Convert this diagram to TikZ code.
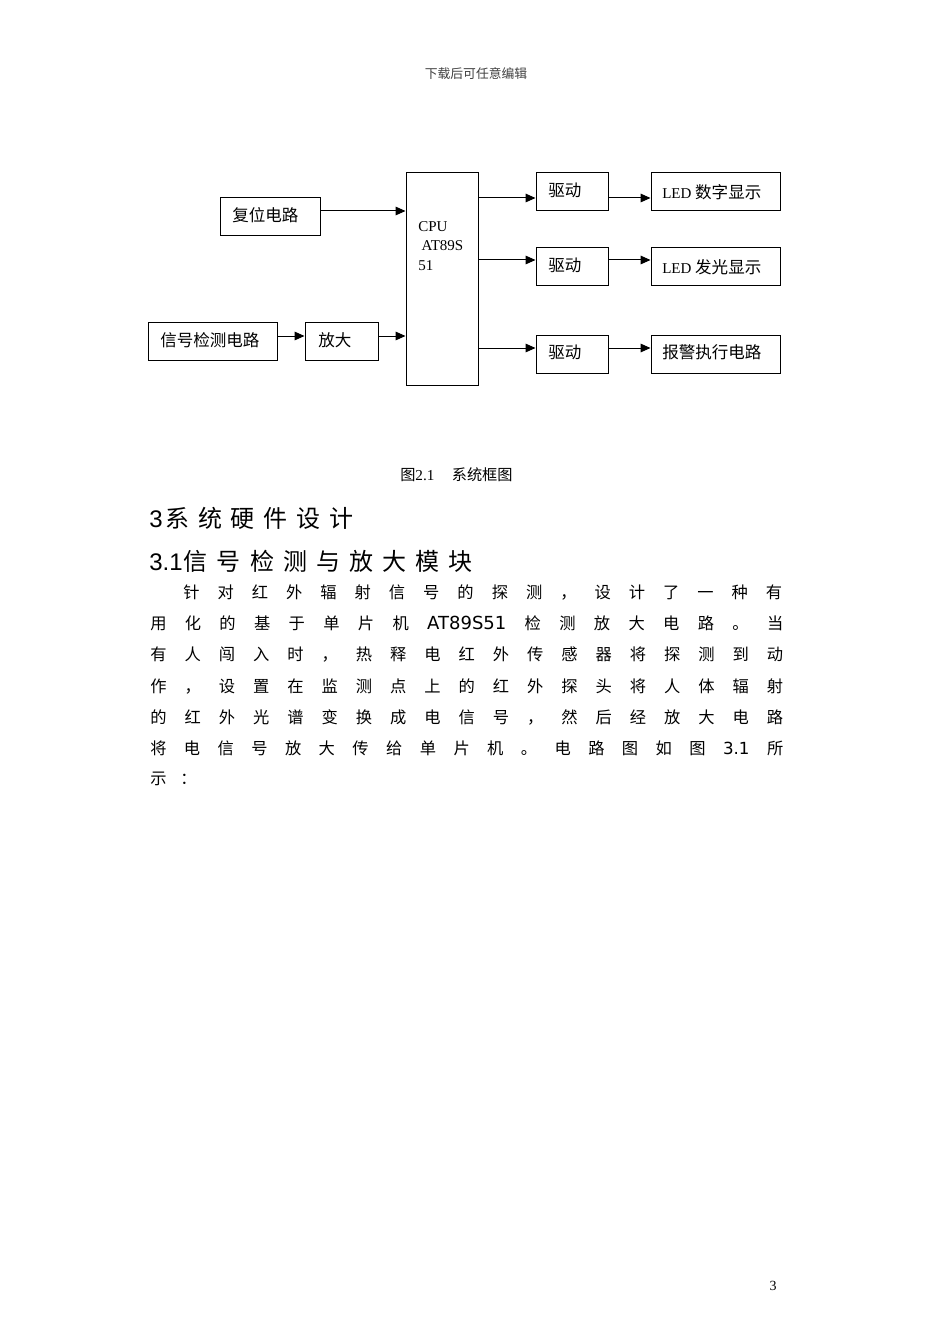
\documentclass[tikz,border=0pt]{standalone}
\usepackage{fontspec}
\setmainfont{Liberation Serif}
\newfontfamily\cjk{Noto Sans CJK SC}
\newfontfamily\dvs{DejaVu Sans}
\newfontfamily\lsans{Liberation Sans}
\usetikzlibrary{arrows.meta,fit}
\tikzset{
  blk/.style={draw, line width=0.75pt, inner sep=0pt},
  lbl/.style={anchor=west, inner sep=0pt, font=\cjk\fontsize{12.4pt}{14pt}\selectfont},
  arr/.style={line width=0.75pt, -{Triangle[length=7.5pt,width=6.5pt]}},
  body/.style={anchor=west, inner sep=0pt, font=\cjk\fontsize{12.2pt}{14pt}\selectfont},
  head/.style={anchor=west, inner sep=0pt, font=\cjk\fontsize{18pt}{20pt}\selectfont},
}
\begin{document}
\begin{tikzpicture}[x=0.75pt,y=-0.75pt]
\useasboundingbox[fill=white] (0,0) rectangle (950,1344);
% header
\node[inner sep=0pt, text=black!75, font=\cjk\fontsize{9.6pt}{11pt}\selectfont] (hdr) at (476,74) {下载后可任意编辑};
% boxes
\node[blk, fit={(220,198)(320,236)}] (fuwei) {};
\node[blk, fit={(406,173)(478,385)}] (cpu) {};
\node[blk, fit={(148,322)(277,360)}] (xinhao) {};
\node[blk, fit={(305,322)(378,360)}] (fangda) {};
\node[blk, fit={(536,173)(608,211)}] (q1) {};
\node[blk, fit={(536,248)(608,286)}] (q2) {};
\node[blk, fit={(536,335)(608,373)}] (q3) {};
\node[blk, fit={(651,173)(780,211)}] (led1) {};
\node[blk, fit={(651,248)(780,286)}] (led2) {};
\node[blk, fit={(651,335)(780,373)}] (alarm) {};
% labels
\node[lbl] (tfuwei) at (232,215) {复位电路};
\node[lbl] (txinhao) at (160,340) {信号检测电路};
\node[lbl] (tfangda) at (318,340) {放大};
\node[lbl] (tq1) at (548,190) {驱动};
\node[lbl] (tq2) at (548,265) {驱动};
\node[lbl] (tq3) at (548,352) {驱动};
\node[lbl] (tled1) at (662,192) {{\rmfamily\fontsize{11.25pt}{13pt}\selectfont LED }数字显示};
\node[lbl] (tled2) at (662,267) {{\rmfamily\fontsize{11.25pt}{13pt}\selectfont LED }发光显示};
\node[lbl] (talarm) at (662,352) {报警执行电路};
\node[anchor=north west, inner sep=0pt, align=left, font=\rmfamily\fontsize{11.25pt}{14.6pt}\selectfont] (tcpu) at (418,221) {CPU\\\kern2.5pt AT89S\\51};
% connectors
\coordinate (r1) at ([yshift=4.5pt]fuwei.east);
\draw[arr] (r1) -- (r1 -| cpu.west);
\coordinate (s1) at ([yshift=3.75pt]xinhao.east);
\draw[arr] (s1) -- (s1 -| fangda.west);
\draw[arr] (s1 -| fangda.east) -- (s1 -| cpu.west);
\coordinate (d1) at ([yshift=-4.5pt]q1.west);
\coordinate (d2) at ([yshift=5.25pt]q2.west);
\coordinate (d3) at ([yshift=4.5pt]q3.west);
\draw[arr] (d1 -| cpu.east) -- (d1);
\draw[arr] (d2 -| cpu.east) -- (d2);
\draw[arr] (d3 -| cpu.east) -- (d3);
\draw[arr] (d1 -| q1.east) -- (d1 -| led1.west);
\draw[arr] (d2 -| q2.east) -- (d2 -| led2.west);
\draw[arr] (d3 -| q3.east) -- (d3 -| alarm.west);
% caption
\node[anchor=west, inner sep=0pt, font=\rmfamily\fontsize{11.4pt}{12pt}\selectfont] (cap) at (400,475) {{\cjk 图}2.1\hspace{13pt}{\cjk 系统框图}};
% headings
\node[head] (h1) at (149,518) {\makebox[153pt][s]{{\lsans 3}\kern2pt 系\hfill 统\hfill 硬\hfill 件\hfill 设\hfill 计}};
\node[head] (h2) at (149,561) {\makebox[242.25pt][s]{{\lsans 3.1}\kern1pt 信\hfill 号\hfill 检\hfill 测\hfill 与\hfill 放\hfill 大\hfill 模\hfill 块}};
% body
\node[body] (l1) at (183,592.5) {\makebox[449.25pt][s]{针\hfill 对\hfill 红\hfill 外\hfill 辐\hfill 射\hfill 信\hfill 号\hfill 的\hfill 探\hfill 测\hfill ，\hfill 设\hfill 计\hfill 了\hfill 一\hfill 种\hfill 有}};
\node[body] (l2) at (150,623.7) {\makebox[474.75pt][s]{用\hfill 化\hfill 的\hfill 基\hfill 于\hfill 单\hfill 片\hfill 机\hfill {\dvs\fontsize{13.5pt}{14pt}\selectfont AT89S51}\hfill 检\hfill 测\hfill 放\hfill 大\hfill 电\hfill 路\hfill 。\hfill 当}};
\node[body] (l3) at (150,655) {\makebox[474.75pt][s]{有\hfill 人\hfill 闯\hfill 入\hfill 时\hfill ，\hfill 热\hfill 释\hfill 电\hfill 红\hfill 外\hfill 传\hfill 感\hfill 器\hfill 将\hfill 探\hfill 测\hfill 到\hfill 动}};
\node[body] (l4) at (150,686) {\makebox[474.75pt][s]{作\hfill ，\hfill 设\hfill 置\hfill 在\hfill 监\hfill 测\hfill 点\hfill 上\hfill 的\hfill 红\hfill 外\hfill 探\hfill 头\hfill 将\hfill 人\hfill 体\hfill 辐\hfill 射}};
\node[body] (l5) at (150,717) {\makebox[474.75pt][s]{的\hfill 红\hfill 外\hfill 光\hfill 谱\hfill 变\hfill 换\hfill 成\hfill 电\hfill 信\hfill 号\hfill ，\hfill 然\hfill 后\hfill 经\hfill 放\hfill 大\hfill 电\hfill 路}};
\node[body] (l6) at (150,748) {\makebox[474.75pt][s]{将\hfill 电\hfill 信\hfill 号\hfill 放\hfill 大\hfill 传\hfill 给\hfill 单\hfill 片\hfill 机\hfill 。\hfill 电\hfill 路\hfill 图\hfill 如\hfill 图\hfill {\dvs\fontsize{12.5pt}{14pt}\selectfont 3.1}\hfill 所}};
\node[body] (l7a) at (150,779) {示};
\node[body] (l7b) at (180,779) {：};
% page number
\node[inner sep=0pt, font=\rmfamily\fontsize{10.5pt}{12pt}\selectfont] (pg) at (773,1286) {3};
\end{tikzpicture}
\end{document}
